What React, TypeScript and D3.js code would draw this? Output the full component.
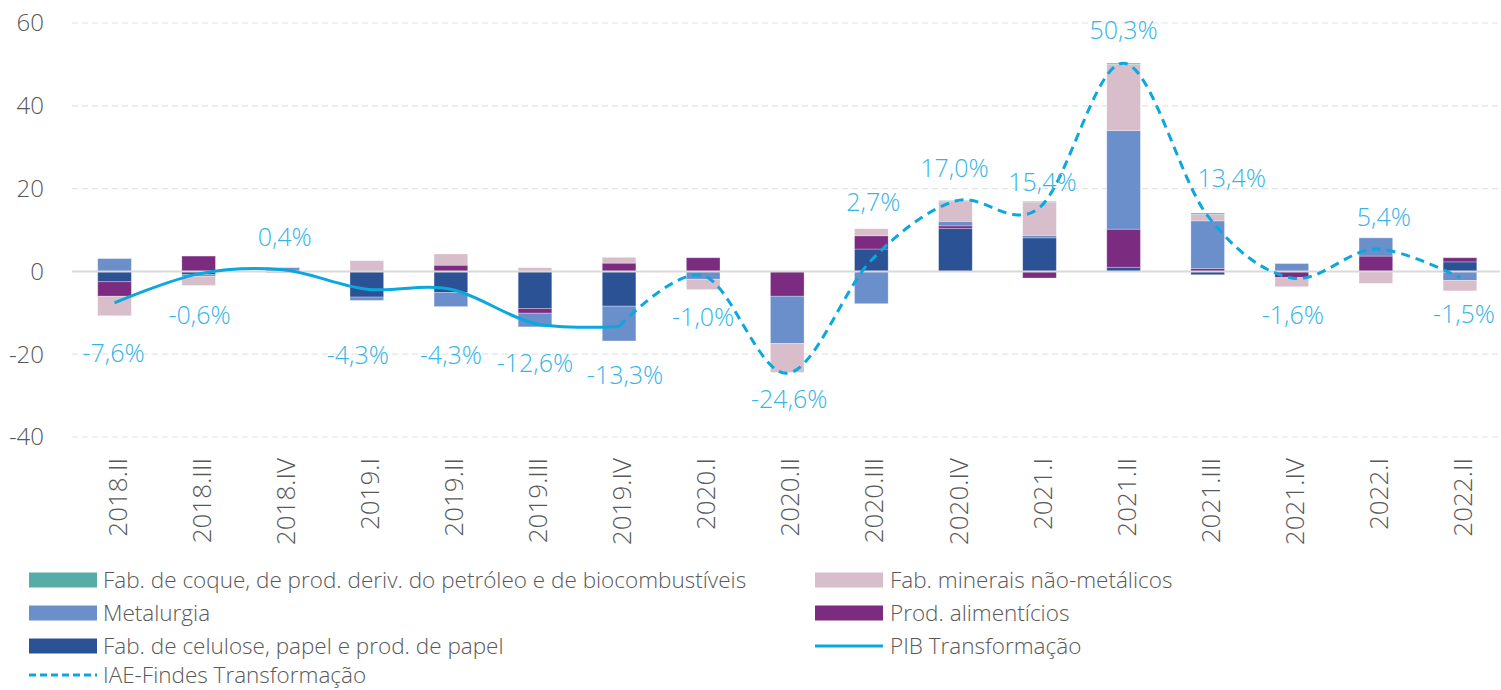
import React from "react";
import * as d3 from "d3";

const categories = ["2018.II","2018.III","2018.IV","2019.I","2019.II","2019.III","2019.IV","2020.I","2020.II","2020.III","2020.IV","2021.I","2021.II","2021.III","2021.IV","2022.I","2022.II"];

const celulose = [-2.5,-0.8,0,-6.2,-5.1,-9.0,-8.4,0,0,5.4,10.4,8.1,1.0,-0.8,0,0,2.3];
const alimenticios = [-3.5,3.7,0.3,0,1.5,-1.1,2.0,3.3,-6.0,3.2,0.6,-1.6,9.2,0.7,-1.5,3.7,1.0];
const metalurgia = [3.1,-0.4,0.6,-0.8,-3.4,-3.3,-8.4,-1.9,-11.4,-7.8,1.1,0.6,23.8,11.5,1.9,4.4,-2.2];
const minerais = [-4.7,-2.2,-0.4,2.6,2.7,0.9,1.4,-2.5,-7.0,1.7,4.8,8.0,16.0,1.6,-2.2,-2.9,-2.5];
const coque = [0,0,0,0,0,0,0,0,0,0,0.2,0.2,0.3,0.3,0,0,0];

const pib: (number | null)[] = [-7.6,-0.6,0.4,-4.3,-4.3,-12.6,-13.3,null,null,null,null,null,null,null,null,null,null];
const iae: (number | null)[] = [null,null,null,null,null,null,-13.3,-1.0,-24.6,2.7,17.0,15.4,50.3,13.4,-1.6,5.4,-1.5];

const yTicks = [-40,-20,0,20,40,60];

// label nudges (px) relative to the line point
const labelDx = [-1,1,2,-9,0,0,6,0,2,2,-1,3,0,24,1,8,4];
const labelDy = [50,41,-32,66,66,40,49,42,26,-58,-33,-25,-33,-38,37,-32,37];

const seriesKeys = ["celulose","alimenticios","metalurgia","minerais","coque"];
const seriesData: Record<string, number[]> = { celulose, alimenticios, metalurgia, minerais, coque };
const colors: Record<string, string> = {
  coque: "#58aca7",
  metalurgia: "#6a8fca",
  celulose: "#2b5294",
  alimenticios: "#7b2c80",
  minerais: "#d8bdcb",
};
const LINE = "#0aa8de";
const LABEL = "#35b5e6";
const TEXT = "#595959";
const FONT = "'Open Sans', sans-serif";

export default function App() {
  const W = 1501, H = 690;
  const x = d3.scaleBand().domain(categories).range([72.5, 1502]).paddingInner(0.6).paddingOuter(0.3);
  const y = d3.scaleLinear().domain([-40, 60]).range([437, 23]);

  const rows = categories.map((c, i) => {
    const r: any = { cat: c };
    seriesKeys.forEach(k => (r[k] = seriesData[k][i]));
    return r;
  });
  const stack = d3.stack<any>().keys(seriesKeys).offset(d3.stackOffsetDiverging);
  const layers = stack(rows);

  const cx = (c: string) => (x(c) as number) + x.bandwidth() / 2;

  const line = d3.line<[string, number | null]>()
    .defined(d => d[1] !== null)
    .x(d => cx(d[0]))
    .y(d => y(d[1] as number))
    .curve(d3.curveCatmullRom.alpha(0));

  const pibPts = categories.map((c, i) => [c, pib[i]] as [string, number | null]).filter(d => d[1] !== null);
  const iaePts = categories.map((c, i) => [c, iae[i]] as [string, number | null]).filter(d => d[1] !== null);

  const labelVals = categories.map((_, i) => (pib[i] !== null ? pib[i] : iae[i]) as number);
  const fmt = (v: number) => v.toFixed(1).replace(".", ",") + "%";

  const legendLeft = [
    { type: "rect", key: "coque", label: "Fab. de coque, de prod. deriv. do petróleo e de biocombustíveis" },
    { type: "rect", key: "metalurgia", label: "Metalurgia" },
    { type: "rect", key: "celulose", label: "Fab. de celulose, papel e prod. de papel" },
    { type: "dash", key: "iae", label: "IAE-Findes Transformação" },
  ];
  const legendRight = [
    { type: "rect", key: "minerais", label: "Fab. minerais não-metálicos" },
    { type: "rect", key: "alimenticios", label: "Prod. alimentícios" },
    { type: "line", key: "pib", label: "PIB Transformação" },
  ];
  const rowY = [580, 613, 646, 675];

  const renderLegend = (items: any[], x0: number, sw: number, tx: number) =>
    items.map((it, i) => {
      const cy = rowY[i];
      return (
        <g key={it.key}>
          {it.type === "rect" && <rect x={x0} y={cy - 7.5} width={sw} height={15} fill={colors[it.key]} />}
          {it.type === "line" && <line x1={x0} x2={x0 + sw} y1={cy} y2={cy} stroke={LINE} strokeWidth={3} />}
          {it.type === "dash" && <line x1={x0} x2={x0 + sw} y1={cy} y2={cy} stroke={LINE} strokeWidth={3} strokeDasharray="7,4" />}
          <text x={tx} y={cy} dy="0.35em" fontSize={22.5} fontWeight={300} fill={TEXT} fontFamily={FONT}>{it.label}</text>
        </g>
      );
    });

  return (
    <svg width={W} height={H} style={{ position: "absolute", left: 0, top: 0, background: "#fff" }}>
      {/* grid */}
      {yTicks.filter(t => t !== 0).map(t => (
        <line key={t} x1={72} x2={1500} y1={y(t)} y2={y(t)} stroke="#e3e3e3" strokeWidth={1.2} strokeDasharray="6,4" />
      ))}
      {yTicks.map(t => (
        <text key={t} x={44} y={y(t)} dy="0.35em" textAnchor="end" fontSize={24} fontWeight={300} fill={TEXT} fontFamily={FONT}>{t}</text>
      ))}
      {/* bars */}
      {layers.map(layer => (
        <g key={layer.key} fill={colors[layer.key]}>
          {layer.map((d, i) => {
            const h = Math.abs(y(d[0]) - y(d[1]));
            if (h < 0.01) return null;
            return (
              <rect key={i} x={x(categories[i])} y={Math.min(y(d[0]), y(d[1]))} width={x.bandwidth()} height={h}
                stroke="#ffffff" strokeOpacity={0.35} strokeWidth={0.8} />
            );
          })}
        </g>
      ))}
      <line x1={72} x2={1500} y1={y(0)} y2={y(0)} stroke="#d9d9d9" strokeWidth={2} />
      {/* lines */}
      <path d={line(pibPts) || ""} fill="none" stroke={LINE} strokeWidth={3} />
      <path d={line(iaePts) || ""} fill="none" stroke={LINE} strokeWidth={3} strokeDasharray="9,6" />
      {/* labels */}
      {categories.map((c, i) => (
        <text key={c} x={cx(c) + labelDx[i]} y={y(labelVals[i]) + labelDy[i]} dy="0.35em" textAnchor="middle"
          fontSize={25} fontWeight={300} fill={LABEL} fontFamily={FONT}>{fmt(labelVals[i])}</text>
      ))}
      {/* x axis labels */}
      {categories.map(c => (
        <text key={c} transform={`translate(${cx(c) + 3},${458}) rotate(-90)`} dy="0.35em" textAnchor="end"
          fontSize={26} fontWeight={300} fill={TEXT} fontFamily={FONT}>{c}</text>
      ))}
      {/* legend */}
      {renderLegend(legendLeft, 29, 68, 103)}
      {renderLegend(legendRight, 815, 68, 890)}
    </svg>
  );
}
